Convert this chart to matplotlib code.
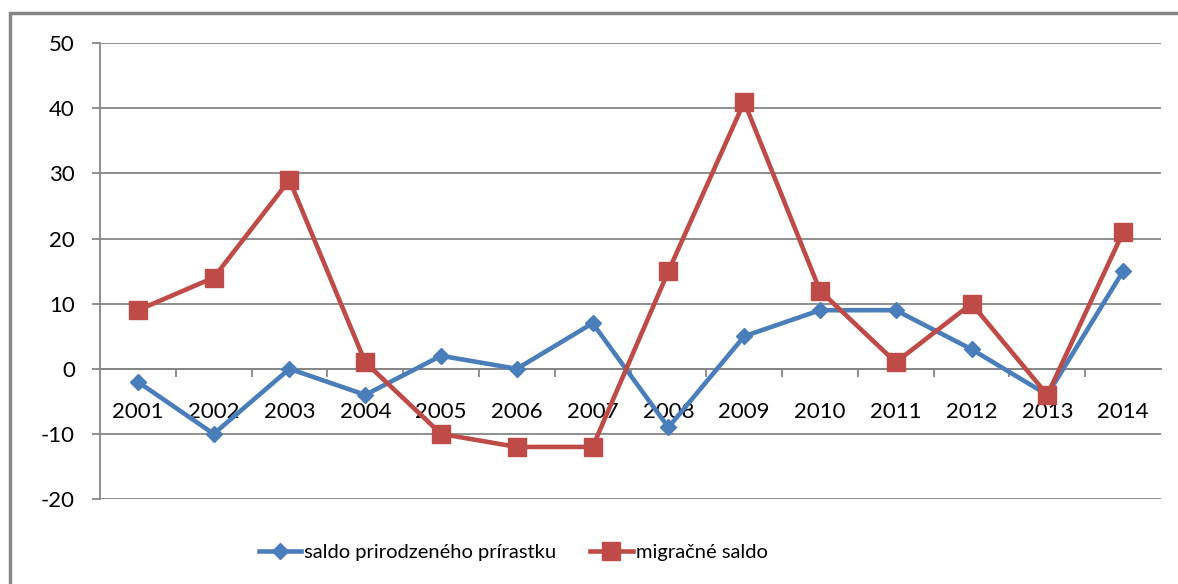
import matplotlib
matplotlib.use("Agg")
import matplotlib.pyplot as plt
from matplotlib.patches import Rectangle
import numpy as np

years = ["2001", "2002", "2003", "2004", "2005", "2006", "2007",
         "2008", "2009", "2010", "2011", "2012", "2013", "2014"]
natural = [-2, -10, 0, -4, 2, 0, 7, -9, 5, 9, 9, 3, -4, 15]
migration = [9, 14, 29, 1, -10, -12, -12, 15, 41, 12, 1, 10, -4, 21]

BLUE = "#4A7EBB"
RED = "#BE4B48"
GRID = "#868686"

plt.rcParams["font.family"] = ["Lato", "DejaVu Sans"]
plt.rcParams["axes.unicode_minus"] = False

fig = plt.figure(figsize=(11.78, 5.84), dpi=100, facecolor="white")
ax = fig.add_axes([0.0849, 0.1455, 0.9007, 0.7804])

x = np.arange(len(years))
ax.plot(x, natural, color=BLUE, lw=3.3, marker="D", ms=8.5,
        label="saldo prirodzeného prírastku", zorder=3)
ax.plot(x, migration, color=RED, lw=3.3, marker="s", ms=13,
        label="migračné saldo", zorder=4)

ax.set_xlim(-0.5, len(years) - 0.5)
ax.set_ylim(-20, 50)
ax.set_yticks(range(-20, 51, 10))
ax.yaxis.grid(True, color=GRID, lw=1.3)
ax.set_axisbelow(True)

for s in ("top", "right"):
    ax.spines[s].set_visible(False)
ax.spines["left"].set_color(GRID)
ax.spines["left"].set_linewidth(1.3)
ax.spines["bottom"].set_position(("data", 0))
ax.spines["bottom"].set_color(GRID)
ax.spines["bottom"].set_linewidth(1.3)

ax.set_xticks(x)
ax.set_xticklabels(years)
ax.set_xticks(np.arange(0.5, len(years) - 0.5, 1), minor=True)
ax.tick_params(axis="x", which="major", length=0, pad=31, labelsize=16)
ax.tick_params(axis="x", which="minor", length=6, width=1.3, color=GRID,
               direction="out")
ax.tick_params(axis="y", length=6, width=1.3, color=GRID, pad=12,
               labelsize=16)
for lbl in ax.get_xticklabels():
    lbl.set_verticalalignment("center")

fig.legend(loc="center", bbox_to_anchor=(513 / 1178, 1 - 552 / 584),
           ncol=2, frameon=False, fontsize=14.5, handlelength=2.1,
           handletextpad=0.15, columnspacing=1.7)

fig.add_artist(Rectangle((10 / 1178, -0.1), 1.2, 1 - 13.5 / 584 + 0.1,
                         transform=fig.transFigure, fill=False,
                         edgecolor=GRID, lw=2.5, clip_on=False))

fig.savefig("out.png", dpi=100)
